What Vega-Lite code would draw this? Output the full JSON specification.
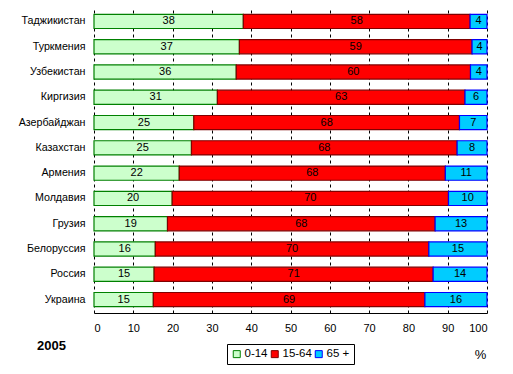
{
  "$schema": "https://vega.github.io/schema/vega-lite/v6.json",
  "autosize": "none",
  "width": 393,
  "height": 305,
  "padding": {"left": 94, "top": 8, "right": 26, "bottom": 61},
  "background": "white",
  "config": {
    "font": "Liberation Sans",
    "view": {"stroke": null},
    "axis": {"labelFont": "Liberation Sans", "labelColor": "black", "labelFontSize": 11}
  },
  "title": {
    "text": "2005",
    "orient": "bottom",
    "anchor": "start",
    "frame": "group",
    "dx": -57,
    "offset": -25,
    "fontSize": 13,
    "fontWeight": "bold",
    "color": "black",
    "font": "Liberation Sans"
  },
  "data": {
    "values": [
      {"country": "Таджикистан", "group": "0-14", "ord": 1, "v": 38.0},
      {"country": "Таджикистан", "group": "15-64", "ord": 2, "v": 57.7},
      {"country": "Таджикистан", "group": "65 +", "ord": 3, "v": 4.3},
      {"country": "Туркмения", "group": "0-14", "ord": 1, "v": 37.0},
      {"country": "Туркмения", "group": "15-64", "ord": 2, "v": 59.2},
      {"country": "Туркмения", "group": "65 +", "ord": 3, "v": 3.8},
      {"country": "Узбекистан", "group": "0-14", "ord": 1, "v": 36.2},
      {"country": "Узбекистан", "group": "15-64", "ord": 2, "v": 59.6},
      {"country": "Узбекистан", "group": "65 +", "ord": 3, "v": 4.2},
      {"country": "Киргизия", "group": "0-14", "ord": 1, "v": 31.4},
      {"country": "Киргизия", "group": "15-64", "ord": 2, "v": 63.0},
      {"country": "Киргизия", "group": "65 +", "ord": 3, "v": 5.6},
      {"country": "Азербайджан", "group": "0-14", "ord": 1, "v": 25.4},
      {"country": "Азербайджан", "group": "15-64", "ord": 2, "v": 67.6},
      {"country": "Азербайджан", "group": "65 +", "ord": 3, "v": 7.0},
      {"country": "Казахстан", "group": "0-14", "ord": 1, "v": 24.8},
      {"country": "Казахстан", "group": "15-64", "ord": 2, "v": 67.6},
      {"country": "Казахстан", "group": "65 +", "ord": 3, "v": 7.6},
      {"country": "Армения", "group": "0-14", "ord": 1, "v": 21.7},
      {"country": "Армения", "group": "15-64", "ord": 2, "v": 67.7},
      {"country": "Армения", "group": "65 +", "ord": 3, "v": 10.6},
      {"country": "Молдавия", "group": "0-14", "ord": 1, "v": 19.9},
      {"country": "Молдавия", "group": "15-64", "ord": 2, "v": 70.3},
      {"country": "Молдавия", "group": "65 +", "ord": 3, "v": 9.8},
      {"country": "Грузия", "group": "0-14", "ord": 1, "v": 18.7},
      {"country": "Грузия", "group": "15-64", "ord": 2, "v": 68.1},
      {"country": "Грузия", "group": "65 +", "ord": 3, "v": 13.2},
      {"country": "Белоруссия", "group": "0-14", "ord": 1, "v": 15.6},
      {"country": "Белоруссия", "group": "15-64", "ord": 2, "v": 69.6},
      {"country": "Белоруссия", "group": "65 +", "ord": 3, "v": 14.8},
      {"country": "Россия", "group": "0-14", "ord": 1, "v": 15.3},
      {"country": "Россия", "group": "15-64", "ord": 2, "v": 71.0},
      {"country": "Россия", "group": "65 +", "ord": 3, "v": 13.7},
      {"country": "Украина", "group": "0-14", "ord": 1, "v": 15.1},
      {"country": "Украина", "group": "15-64", "ord": 2, "v": 69.1},
      {"country": "Украина", "group": "65 +", "ord": 3, "v": 15.8}
    ]
  },
  "transform": [
    {"stack": "v", "groupby": ["country"], "sort": [{"field": "ord", "order": "ascending"}], "as": ["v0", "v1"]},
    {"calculate": "(datum.v0 + datum.v1) / 2", "as": "mid"}
  ],
  "encoding": {
    "y": {
      "field": "country",
      "type": "nominal",
      "sort": null,
      "scale": {"paddingInner": 0.44, "paddingOuter": 0.25},
      "axis": {"title": null, "domain": false, "ticks": false, "labelPadding": 9, "labelFontSize": 10.7, "grid": false}
    }
  },
  "layer": [
    {
      "mark": {"type": "bar", "strokeWidth": 1.2, "cornerRadius": 0},
      "encoding": {
        "x": {
          "field": "v0",
          "type": "quantitative",
          "scale": {"domain": [0, 100], "nice": false},
          "axis": {
            "values": [0, 10, 20, 30, 40, 50, 60, 70, 80, 90, 100],
            "labelOverlap": false,
            "ticks": false,
            "domainColor": "black",
            "domainWidth": 1,
            "grid": true,
            "gridColor": "black",
            "gridDash": [3, 3],
            "gridOpacity": 1,
            "gridWidth": 1,
            "labelPadding": 9,
            "labelFontSize": 11,
            "title": "%",
            "titleX": 386,
            "titleY": 41,
            "titleAlign": "center",
            "titleBaseline": "middle",
            "titleFontWeight": "normal",
            "titleFontSize": 13,
            "titleColor": "black"
          }
        },
        "x2": {"field": "v1"},
        "color": {
          "field": "group",
          "type": "nominal",
          "scale": {"domain": ["0-14", "15-64", "65 +"], "range": ["#CCFFCC", "#FF0000", "#00CCFF"]},
          "legend": {
            "title": null,
            "orient": "none",
            "legendX": 133,
            "legendY": 336,
            "direction": "horizontal",
            "strokeColor": "black",
            "padding": 4,
            "symbolType": "square",
            "symbolSize": 49,
            "symbolStrokeWidth": 1,
            "symbolOpacity": 1,
            "labelFontSize": 11.5,
            "labelColor": "black",
            "labelOffset": 2,
            "columnPadding": 1
          }
        },
        "stroke": {
          "field": "group",
          "type": "nominal",
          "scale": {"domain": ["0-14", "15-64", "65 +"], "range": ["#008000", "#800000", "#0000FF"]},
          "legend": {
            "title": null,
            "orient": "none",
            "legendX": 133,
            "legendY": 336,
            "direction": "horizontal",
            "strokeColor": "black",
            "padding": 4,
            "symbolType": "square",
            "symbolSize": 49,
            "symbolStrokeWidth": 1,
            "symbolOpacity": 1,
            "labelFontSize": 11.5,
            "labelColor": "black",
            "labelOffset": 2,
            "columnPadding": 1
          }
        }
      }
    },
    {
      "mark": {"type": "text", "fontSize": 11, "color": "black", "align": "center", "baseline": "middle"},
      "encoding": {
        "x": {
          "field": "mid",
          "type": "quantitative",
          "axis": {
            "values": [0, 10, 20, 30, 40, 50, 60, 70, 80, 90, 100],
            "labelOverlap": false,
            "ticks": false,
            "domainColor": "black",
            "domainWidth": 1,
            "grid": true,
            "gridColor": "black",
            "gridDash": [3, 3],
            "gridOpacity": 1,
            "gridWidth": 1,
            "labelPadding": 9,
            "labelFontSize": 11,
            "title": "%",
            "titleX": 386,
            "titleY": 41,
            "titleAlign": "center",
            "titleBaseline": "middle",
            "titleFontWeight": "normal",
            "titleFontSize": 13,
            "titleColor": "black"
          }
        },
        "text": {"field": "v", "type": "quantitative", "format": ".0f"}
      }
    }
  ]
}
